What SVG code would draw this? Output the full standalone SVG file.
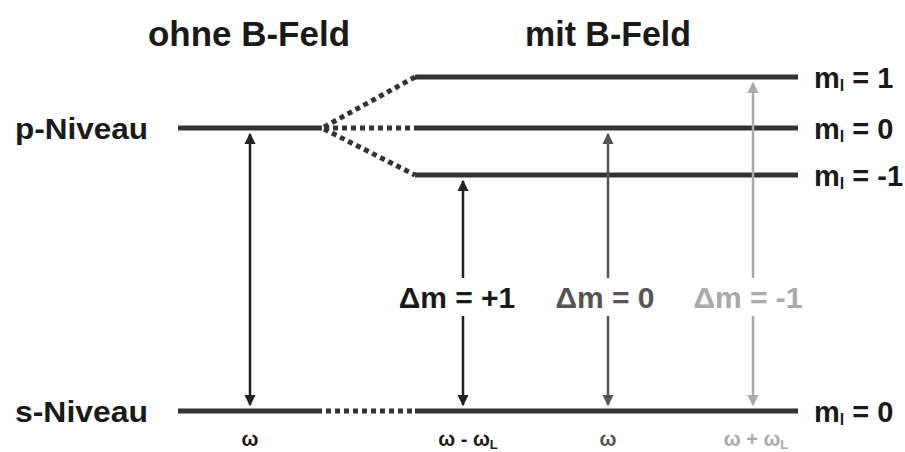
<svg xmlns="http://www.w3.org/2000/svg" width="905" height="452" viewBox="0 0 905 452">
<style>
text{font-family:"Liberation Sans",Arial,sans-serif;font-weight:bold;fill:#1a1a1a}
.t{font-size:35px}
.lv{font-size:30px}
.ml{font-size:29px}
.dm{font-size:30px}
.w{font-size:20px}
.lvl{stroke:#333;stroke-width:5;fill:none}
.dot{stroke:#333;stroke-width:5;fill:none;stroke-dasharray:5 4}
</style>
<defs>
<marker id="ak" viewBox="0 0 10 10" refX="9" refY="5" markerWidth="4.5" markerHeight="5" orient="auto-start-reverse"><path d="M0,0L10,5L0,10z" fill="#222"/></marker>
<marker id="ad" viewBox="0 0 10 10" refX="9" refY="5" markerWidth="4.5" markerHeight="5" orient="auto-start-reverse"><path d="M0,0L10,5L0,10z" fill="#555"/></marker>
<marker id="al" viewBox="0 0 10 10" refX="9" refY="5" markerWidth="4.5" markerHeight="5" orient="auto-start-reverse"><path d="M0,0L10,5L0,10z" fill="#aaa"/></marker>
</defs>
<text class="t" x="148" y="46" textLength="202" lengthAdjust="spacingAndGlyphs">ohne B-Feld</text>
<text class="t" x="525" y="46" textLength="166" lengthAdjust="spacingAndGlyphs">mit B-Feld</text>
<g id="p-niveau">
<text class="lv" x="15" y="139" textLength="133" lengthAdjust="spacingAndGlyphs">p-Niveau</text>
<line class="lvl" x1="178" y1="128" x2="322" y2="128"/>
</g>
<g id="m1"><line class="lvl" x1="415" y1="77" x2="798" y2="77"/><text class="ml" x="814" y="88">m<tspan font-size="16" dy="3">l</tspan><tspan dy="-3"> = 1</tspan></text></g>
<g id="m0"><line class="lvl" x1="415" y1="128" x2="798" y2="128"/><text class="ml" x="814" y="139">m<tspan font-size="16" dy="3">l</tspan><tspan dy="-3"> = 0</tspan></text></g>
<g id="m-1"><line class="lvl" x1="415" y1="175" x2="798" y2="175"/><text class="ml" x="814" y="186">m<tspan font-size="16" dy="3">l</tspan><tspan dy="-3"> = -1</tspan></text></g>
<g id="s-niveau">
<text class="lv" x="15" y="422" textLength="133" lengthAdjust="spacingAndGlyphs">s-Niveau</text>
<line class="lvl" x1="178" y1="411" x2="322" y2="411"/>
<line class="dot" x1="326" y1="411" x2="415" y2="411"/>
<line class="lvl" x1="415" y1="411" x2="798" y2="411"/>
<text class="ml" x="814" y="422">m<tspan font-size="16" dy="3">l</tspan><tspan dy="-3"> = 0</tspan></text>
</g>
<g id="connectors">
<line class="dot" x1="324" y1="127" x2="415" y2="77"/>
<line class="dot" x1="324" y1="128" x2="415" y2="128"/>
<line class="dot" x1="324" y1="129" x2="415" y2="175"/>
<line x1="250" y1="134" x2="250" y2="405" stroke="#222" stroke-width="2.5" marker-start="url(#ak)" marker-end="url(#ak)"/>
<line x1="463" y1="181" x2="463" y2="405" stroke="#222" stroke-width="2.5" marker-start="url(#ak)" marker-end="url(#ak)"/>
<line x1="608" y1="134" x2="608" y2="405" stroke="#555" stroke-width="2.5" marker-start="url(#ad)" marker-end="url(#ad)"/>
<line x1="753" y1="83" x2="753" y2="405" stroke="#aaa" stroke-width="2.5" marker-start="url(#al)" marker-end="url(#al)"/>
</g>
<g id="labels">
<rect x="393" y="278" width="128" height="38" fill="#fff"/>
<text class="dm" x="457" y="308" text-anchor="middle">Δm = +1</text>
<rect x="548" y="278" width="114" height="38" fill="#fff"/>
<text class="dm" x="605" y="308" text-anchor="middle" style="fill:#555">Δm = 0</text>
<rect x="688" y="278" width="120" height="38" fill="#fff"/>
<text class="dm" x="748" y="308" text-anchor="middle" style="fill:#aaa">Δm = -1</text>
<text class="w" x="250" y="446" text-anchor="middle">ω</text>
<text class="w" x="468" y="446" text-anchor="middle">ω - ω<tspan font-size="13" dy="3">L</tspan></text>
<text class="w" x="608" y="446" text-anchor="middle" style="fill:#555">ω</text>
<text class="w" x="756" y="446" text-anchor="middle" style="fill:#aaa">ω + ω<tspan font-size="13" dy="3">L</tspan></text>
</g>
</svg>
